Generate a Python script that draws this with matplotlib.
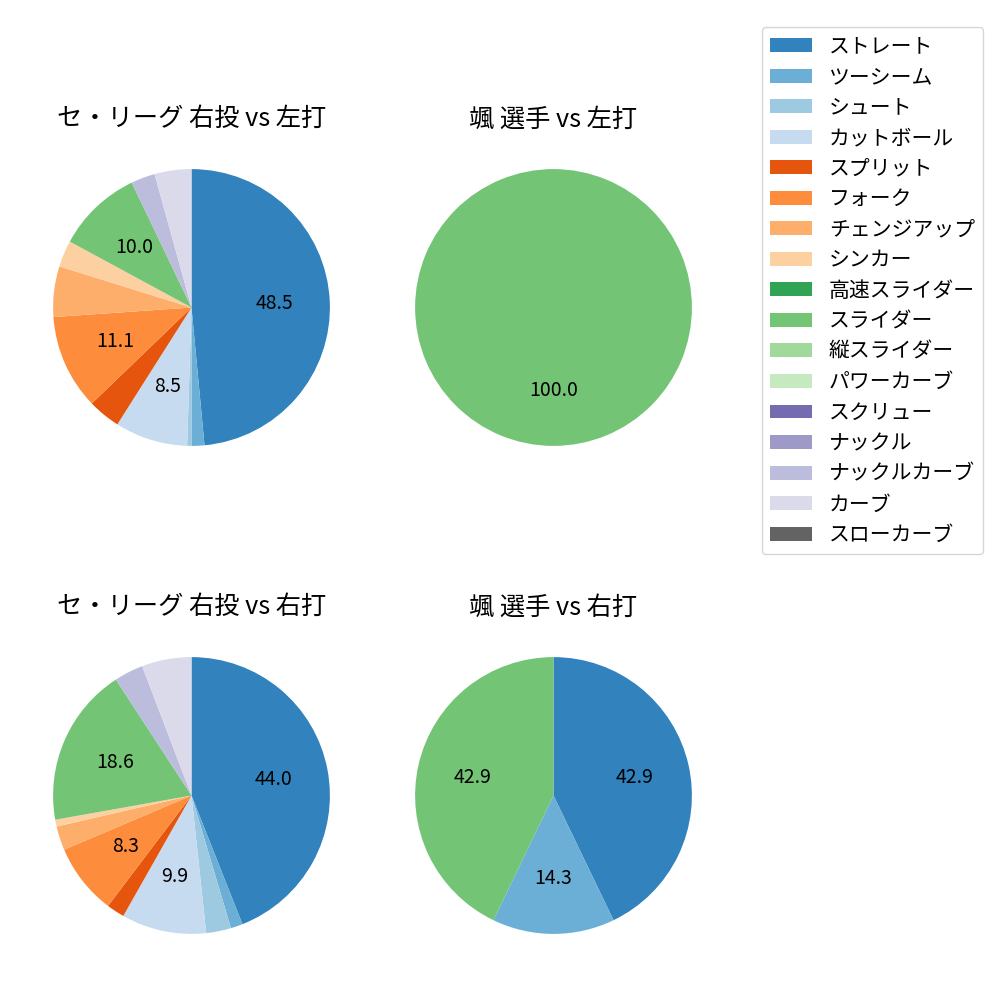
import matplotlib
matplotlib.use("Agg")
import matplotlib.pyplot as plt
from matplotlib.patches import Patch

plt.rcParams['font.family'] = ['Noto Sans CJK JP', 'DejaVu Sans']
plt.rcParams['font.size'] = 14

pitch_types = ["ストレート", "ツーシーム", "シュート", "カットボール", "スプリット", "フォーク",
               "チェンジアップ", "シンカー", "高速スライダー", "スライダー", "縦スライダー",
               "パワーカーブ", "スクリュー", "ナックル", "ナックルカーブ", "カーブ", "スローカーブ"]
colors = [plt.get_cmap('tab20c')(i) for i in range(17)]

# percentages per pitch type (same order as pitch_types)
league_vs_left = [48.5, 1.5, 0.5, 8.5, 3.8, 11.1, 5.9, 3.1, 0, 10.0, 0, 0, 0, 0, 2.8, 4.3, 0]
player_vs_left = [0, 0, 0, 0, 0, 0, 0, 0, 0, 1, 0, 0, 0, 0, 0, 0, 0]
league_vs_right = [44.0, 1.4, 2.9, 9.9, 2.1, 8.3, 2.8, 0.8, 0, 18.6, 0, 0, 0, 0, 3.4, 5.8, 0]
player_vs_right = [3, 1, 0, 0, 0, 0, 0, 0, 0, 3, 0, 0, 0, 0, 0, 0, 0]

titles = ["セ・リーグ 右投 vs 左打", "颯 選手 vs 左打", "セ・リーグ 右投 vs 右打", "颯 選手 vs 右打"]
datasets = [league_vs_left, player_vs_left, league_vs_right, player_vs_right]

fig = plt.figure(figsize=(10, 10), dpi=100)
S = 0.346
centers = [(0.1915, 0.6925), (0.5535, 0.6925), (0.1915, 0.2045), (0.5535, 0.2045)]

for (cx, cy), data, title in zip(centers, datasets, titles):
    ax = fig.add_axes([cx - S / 2, cy - S / 2, S, S])
    vals = [v for v in data if v > 0]
    cols = [c for v, c in zip(data, colors) if v > 0]
    ax.pie(vals, colors=cols, startangle=90, counterclock=False,
           autopct=lambda p: f"{p:.1f}" if p >= 7 else "",
           textprops={'fontsize': 14})
    ax.set_title(title, fontsize=18.2)
    ax.set_aspect('equal')

handles = [Patch(facecolor=c) for c in colors]
fig.legend(handles, pitch_types, loc='upper left', bbox_to_anchor=(0.762, 0.973),
           borderaxespad=0, fontsize=15, labelspacing=0.41, handleheight=0.65)

fig.savefig("out.png", dpi=100)
